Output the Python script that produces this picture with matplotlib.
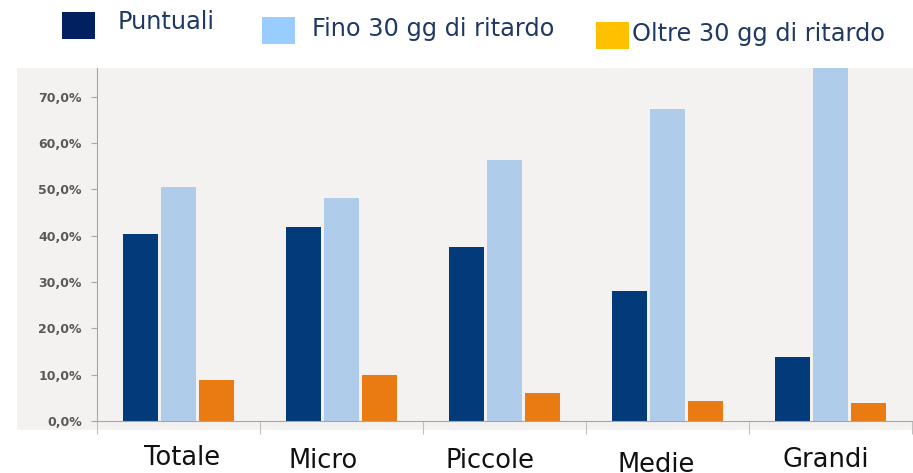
import matplotlib
matplotlib.use("Agg")
import matplotlib.pyplot as plt
from matplotlib.patches import Rectangle
import numpy as np

categories = ["Totale", "Micro", "Piccole", "Medie", "Grandi"]
series_names = ["Puntuali", "Fino 30 gg di ritardo", "Oltre 30 gg di ritardo"]
puntuali = [40.4, 41.9, 37.6, 28.1, 13.8]
fino30 = [50.5, 48.2, 56.4, 67.4, 80.0]
oltre30 = [8.9, 9.9, 6.0, 4.3, 3.9]
yticks = [0, 10, 20, 30, 40, 50, 60, 70]

bar_colors = ["#023A7A", "#AFCCEA", "#EA7A12"]
legend_colors = ["#002060", "#99CCFF", "#FFC000"]
W, H = 913, 473

fig = plt.figure(figsize=(W / 100, H / 100), dpi=100)
fig.patch.set_facecolor("white")

def fx(px):
    return px / W

def fy(py):
    return 1 - py / H

# gray chart area background
bg = Rectangle((fx(17), fy(430)), fx(913) - fx(17), fy(68) - fy(430),
               transform=fig.transFigure, facecolor="#F3F2F0",
               edgecolor="none", zorder=-10)
fig.add_artist(bg)

ax = fig.add_axes([fx(97), fy(421), fx(912) - fx(97), fy(68) - fy(421)])
ax.set_zorder(1)
ax.set_facecolor("#F3F2F0")
ax.set_xlim(0, 5)
ax.set_ylim(0, 76.2)

x = np.arange(len(categories)) + 0.5
bw = 0.209
off = 0.233
for i, vals in enumerate([puntuali, fino30, oltre30]):
    ax.bar(x + (i - 1) * off, vals, width=bw, color=bar_colors[i], zorder=2,
           clip_on=True)

ax.set_yticks(yticks)
ax.set_yticklabels([f"{v:.1f}".replace(".", ",") + "%" for v in yticks],
                   fontsize=9, fontweight="bold", color="#595959")
ax.set_xticks(np.arange(len(categories) + 1))
ax.set_xticklabels([])
ax.tick_params(axis="y", length=4, color="#A6A6A6", pad=7)
ax.tick_params(axis="x", length=9, color="#BFBFBF", direction="out")
for s in ["top", "right"]:
    ax.spines[s].set_visible(False)
ax.spines["left"].set_color("#A6A6A6")
ax.spines["bottom"].set_color("#A6A6A6")

# category labels (centre x, baseline y in pixels)
label_x = [182.5, 323, 490, 656, 826]
label_y = [465, 468, 468, 472, 467]
for c, lx, ly in zip(categories, label_x, label_y):
    fig.text(fx(lx), fy(ly), c, ha="center", va="baseline", fontsize=18.5,
             color="#111111")

# legend
leg_sq = [(62, 12), (262, 17), (596, 22)]
leg_txt = [(118, 22), (312, 29), (632, 34)]
for (sx, sy), (tx, ty), col, name in zip(leg_sq, leg_txt, legend_colors, series_names):
    fig.add_artist(Rectangle((fx(sx), fy(sy + 27)), fx(33), 27 / H,
                             transform=fig.transFigure, facecolor=col,
                             edgecolor="none"))
    fig.text(fx(tx), fy(ty), name, ha="left", va="center", fontsize=17.3,
             color="#1F3864")

fig.savefig("out.png", dpi=100)
